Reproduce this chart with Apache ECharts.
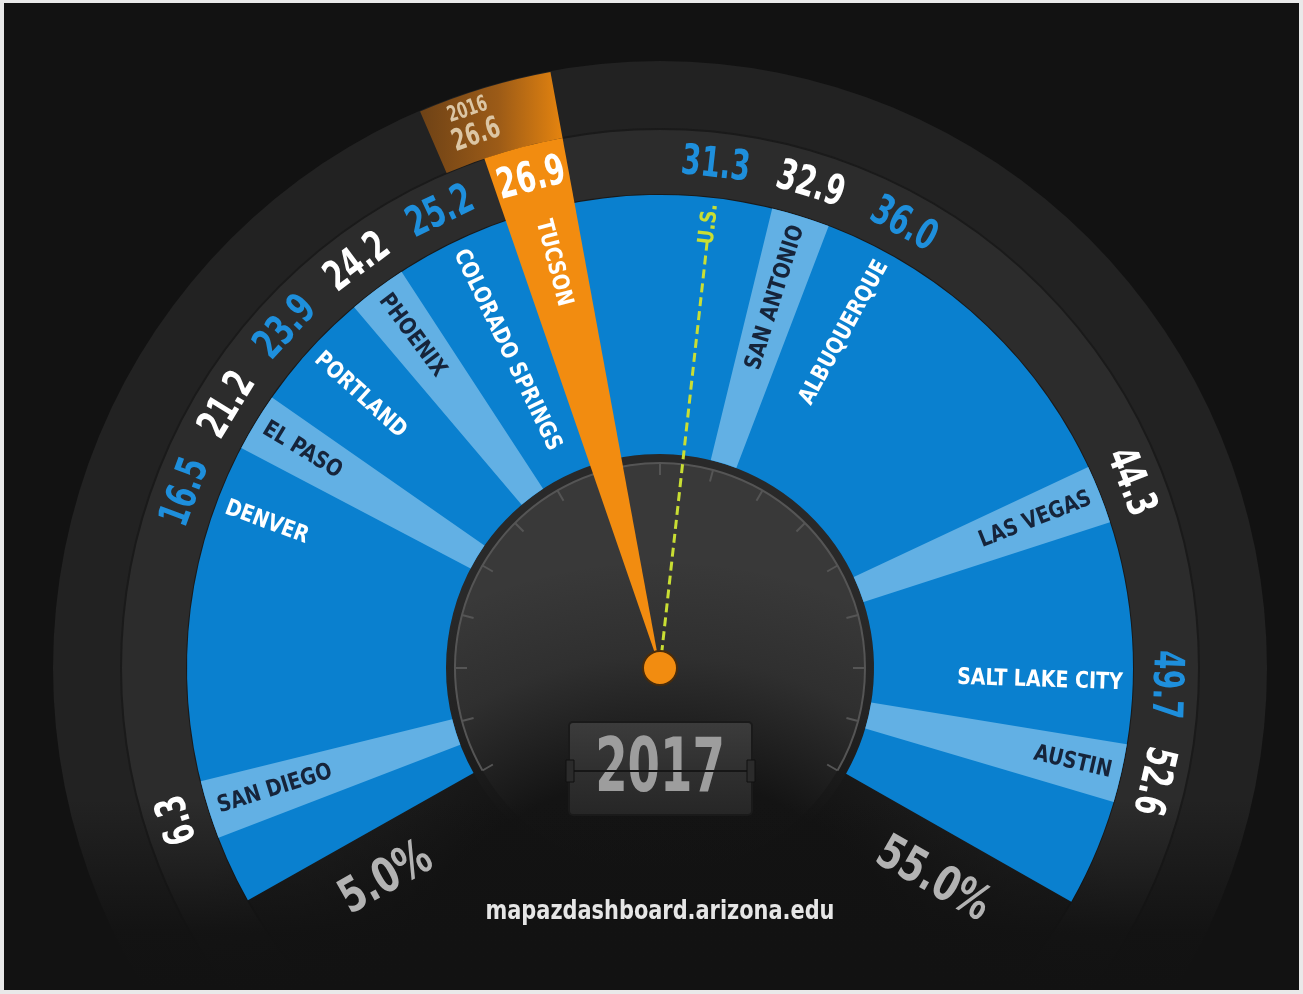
<!DOCTYPE html>
<html>
<head>
<meta charset="utf-8">
<script src="https://cdn.jsdelivr.net/npm/echarts@6/dist/echarts.min.js"></script>
<style>
  html, body { margin: 0; padding: 0; background: #e9e9e9; }
  #main { width: 1303px; height: 994px; }
</style>
</head>
<body>
<div id="main"></div>
<script>
// data
const CITIES = ['SAN DIEGO', 'DENVER', 'EL PASO', 'PORTLAND', 'PHOENIX', 'COLORADO SPRINGS',
  'TUCSON', 'SAN ANTONIO', 'ALBUQUERQUE', 'LAS VEGAS', 'SALT LAKE CITY', 'AUSTIN'];
const VALUES_2017 = [6.3, 16.5, 21.2, 23.9, 24.2, 25.2, 26.9, 32.9, 36.0, 44.3, 49.7, 52.6];
const HIGHLIGHT = 'TUCSON';
const HIGHLIGHT_PREV = 26.6;
const US_VALUE = 31.3;
const AXIS_MIN = 5, AXIS_MAX = 55;
const AXIS_LABELS = ['5.0%', '55.0%'];
const YEAR = '2017', PREV_YEAR = '2016';
const SOURCE = 'mapazdashboard.arizona.edu';

const CX = 660, CY = 668;
const R_OUT = 607, R_RING = 539, R_BLUE = 473, R_HUB = 214;
const STRIPE = 1.5;
const FONT = "'Liberation Sans Narrow', 'DejaVu Sans Condensed', 'Arial Narrow', sans-serif";
const BLUE = '#0a80cf', LIGHT = '#62b0e4', ORANGE = '#f28c10', NUM_BLUE = '#1e8fdc';

const hi = CITIES.indexOf(HIGHLIGHT);

// push close values apart so stripes/labels don't collide, the highlighted city stays put
function spread(vals, fixed, gap, lo, hiLim) {
  const idx = vals.map((v, i) => i).sort((a, b) => vals[a] - vals[b]);
  const pos = vals.slice();
  const k = idx.indexOf(fixed), n = idx.length;
  for (let j = k + 1; j < n; j++) pos[idx[j]] = Math.max(vals[idx[j]], pos[idx[j - 1]] + gap);
  pos[idx[n - 1]] = Math.min(pos[idx[n - 1]], hiLim);
  for (let j = n - 2; j > k; j--) pos[idx[j]] = Math.min(pos[idx[j]], pos[idx[j + 1]] - gap);
  for (let j = k - 1; j >= 0; j--) pos[idx[j]] = Math.min(vals[idx[j]], pos[idx[j + 1]] - gap);
  pos[idx[0]] = Math.max(pos[idx[0]], lo);
  for (let j = 1; j < k; j++) pos[idx[j]] = Math.max(pos[idx[j]], pos[idx[j - 1]] + gap);
  return pos;
}
// the U.S. line takes part in the spreading too (last slot)
const allPos = spread(VALUES_2017.concat([US_VALUE]), hi, 2.3, AXIS_MIN + 2.5, AXIS_MAX - 3.5);
const pos = allPos.slice(0, CITIES.length);
const usPos = allPos[CITIES.length];

// alternate light / dark by rank (highlight excluded)
const ranked = CITIES.map((c, i) => i).filter(i => i !== hi).sort((a, b) => VALUES_2017[a] - VALUES_2017[b]);
const isLight = {};
ranked.forEach((i, r) => { isLight[i] = r % 2 === 0; });

function ang(cs, api, v) {
  const p = api.coord([100, v]);
  return Math.atan2(p[1] - cs.cy, p[0] - cs.cx);
}
function sector(cs, api, v1, v2, r0, r, style) {
  const a1 = ang(cs, api, v1);
  let a2 = ang(cs, api, v2);
  while (a2 < a1) a2 += Math.PI * 2;
  return { type: 'sector', shape: { cx: cs.cx, cy: cs.cy, r0: r0, r: r, startAngle: a1, endAngle: a2, clockwise: true }, style: style };
}
function txt(text, size, fill, weight) {
  return { text: text, fill: fill, fontSize: size, fontWeight: weight || 'bold', fontFamily: FONT };
}
// text running along the radius, always readable
function radialText(cs, api, v, r, style, sx) {
  const a = ang(cs, api, v);
  const right = Math.cos(a) >= 0;
  style.align = right ? 'right' : 'left';
  style.verticalAlign = 'middle';
  return { type: 'text', x: cs.cx + r * Math.cos(a), y: cs.cy + r * Math.sin(a), scaleX: sx || 1,
    rotation: right ? -a : Math.PI - a, style: style };
}
// text along the ring, tops facing out
function ringText(cs, api, v, r, style, sx) {
  const a = ang(cs, api, v);
  style.align = 'center';
  style.verticalAlign = 'middle';
  return { type: 'text', x: cs.cx + r * Math.cos(a), y: cs.cy + r * Math.sin(a), scaleX: sx || 1,
    rotation: -a - Math.PI / 2, style: style };
}

const chart = echarts.init(document.getElementById('main'));
chart.setOption({
  animation: false,
  polar: [
    { center: [CX, CY], radius: R_OUT },
    { center: [CX, CY], radius: 205 }
  ],
  angleAxis: [
    { polarIndex: 0, type: 'value', min: AXIS_MIN, max: AXIS_MAX, startAngle: 209.4, endAngle: -29.6, show: false },
    { polarIndex: 1, type: 'value', min: -120, max: 120, interval: 15, startAngle: 210, endAngle: -30,
      axisLine: { lineStyle: { color: '#555555', width: 2 } },
      axisTick: { inside: true, length: 12, lineStyle: { color: '#555555', width: 2 } },
      axisLabel: { show: false }, splitLine: { show: false } }
  ],
  radiusAxis: [
    { polarIndex: 0, type: 'value', min: 0, max: R_OUT, show: false },
    { polarIndex: 1, type: 'value', min: 0, max: 1, show: false }
  ],
  graphic: [
    { type: 'rect', z: -10, shape: { x: 4, y: 3, width: 1295, height: 987 }, style: { fill: '#121212' } },
    { type: 'circle', z: -9, shape: { cx: CX, cy: CY, r: R_OUT }, style: { fill: '#222222' } },
    { type: 'ring', z: -8, shape: { cx: CX, cy: CY, r: R_RING, r0: R_BLUE }, style: { fill: '#2c2c2c', stroke: '#1a1a1a', lineWidth: 2 } },
    { type: 'circle', z: -8, shape: { cx: CX, cy: CY, r: R_HUB }, style: { fill: '#292929' } },
    { type: 'circle', z: -8, shape: { cx: CX, cy: CY, r: 205 }, style: { fill: '#393939' } },
    { type: 'circle', z: -7, shape: { cx: CX, cy: 1040, r: 480 }, style: {
      fill: new echarts.graphic.RadialGradient(0.5, 0.5, 0.5, [
        { offset: 0, color: 'rgba(18,18,18,1)' },
        { offset: 0.55, color: 'rgba(18,18,18,0.95)' },
        { offset: 0.8, color: 'rgba(18,18,18,0.25)' },
        { offset: 1, color: 'rgba(18,18,18,0)' }]) } },
    { type: 'rect', z: -7, shape: { x: 4, y: 800, width: 1295, height: 190 }, style: {
      fill: new echarts.graphic.LinearGradient(0, 0, 0, 1, [
        { offset: 0, color: 'rgba(18,18,18,0)' },
        { offset: 0.7, color: 'rgba(18,18,18,0.95)' },
        { offset: 1, color: 'rgba(18,18,18,1)' }]) } },
    { type: 'rect', z: 20, shape: { x: 569, y: 722, width: 183, height: 93, r: 4 }, style: {
      fill: new echarts.graphic.LinearGradient(0, 0, 0, 1, [
        { offset: 0, color: '#3c3c3c' }, { offset: 0.5, color: '#303030' }, { offset: 1, color: '#262626' }]),
      stroke: '#1a1a1a', lineWidth: 2 } },
    { type: 'text', z: 21, x: 660, y: 772, scaleX: 0.7, style: { text: YEAR, x: 0, y: 0, align: 'center', verticalAlign: 'middle',
      fill: '#9d9d9d', fontSize: 74, fontWeight: 'bold', fontFamily: FONT } },
    { type: 'line', z: 22, shape: { x1: 573, y1: 771, x2: 748, y2: 771 }, style: { stroke: '#161616', lineWidth: 2 } },
    { type: 'rect', z: 22, shape: { x: 566, y: 760, width: 8, height: 22 }, style: { fill: '#2b2b2b', stroke: '#111', lineWidth: 1 } },
    { type: 'rect', z: 22, shape: { x: 747, y: 760, width: 8, height: 22 }, style: { fill: '#2b2b2b', stroke: '#111', lineWidth: 1 } },
    { type: 'text', z: 21, x: 660, y: 912, scaleX: 0.86, style: { text: SOURCE, x: 0, y: 0, align: 'center', verticalAlign: 'middle',
      fill: '#e6e6e6', fontSize: 27, fontWeight: 'bold', fontFamily: FONT } },
    { type: 'circle', z: 30, shape: { cx: CX, cy: CY, r: 17 }, style: { fill: ORANGE, stroke: '#4a2c0a', lineWidth: 2 } },
    // light frame strip along the bottom edge
    { type: 'rect', z: 40, shape: { x: 0, y: 990, width: 1303, height: 4 }, style: { fill: '#e9e9e9' } }
  ],
  series: [
    {
      // blue band of the gauge
      type: 'custom', coordinateSystem: 'polar', polarIndex: 0, silent: true, z: 2,
      data: [[0, AXIS_MIN]],
      renderItem: (params, api) => sector(params.coordSys, api, AXIS_MIN, AXIS_MAX, R_HUB, R_BLUE, { fill: BLUE })
    },
    {
      // cities
      type: 'custom', coordinateSystem: 'polar', polarIndex: 0, silent: true, z: 3,
      data: CITIES.map((c, i) => [i, pos[i]]).filter(d => d[0] !== hi),
      renderItem: (params, api) => {
        const cs = params.coordSys;
        const i = api.value(0), p = api.value(1);
        const light = isLight[i];
        const children = [];
        if (light) children.push(sector(cs, api, p - STRIPE / 2, p + STRIPE / 2, R_HUB, R_BLUE, { fill: LIGHT }));
        children.push(radialText(cs, api, p, R_BLUE - 10, txt(CITIES[i], 23, light ? '#16243a' : '#ffffff'), 0.92));
        children.push(ringText(cs, api, p, 505, txt(VALUES_2017[i].toFixed(1), 42, light ? '#ffffff' : NUM_BLUE), 0.74));
        return { type: 'group', children: children };
      }
    },
    {
      // U.S. reference line
      type: 'custom', coordinateSystem: 'polar', polarIndex: 0, silent: true, z: 4,
      data: [[0, usPos]],
      renderItem: (params, api) => {
        const cs = params.coordSys, v = api.value(1);
        const p0 = api.coord([0, v]), p1 = api.coord([432, v]);
        return { type: 'group', children: [
          { type: 'line', shape: { x1: p0[0], y1: p0[1], x2: p1[0], y2: p1[1] },
            style: { stroke: '#c9de33', lineWidth: 3, lineDash: [9, 5] } },
          radialText(cs, api, v, R_BLUE - 6, txt('U.S.', 22, '#c9de33'), 0.9),
          ringText(cs, api, v, 505, txt(US_VALUE.toFixed(1), 42, NUM_BLUE), 0.74)
        ] };
      }
    },
    {
      // highlighted city with last year's value
      type: 'custom', coordinateSystem: 'polar', polarIndex: 0, silent: true, z: 5,
      data: [[hi, pos[hi]]],
      renderItem: (params, api) => {
        const cs = params.coordSys, i = api.value(0), p = api.value(1);
        const pPrev = p + (HIGHLIGHT_PREV - VALUES_2017[i]);
        return { type: 'group', children: [
          sector(cs, api, pPrev - 1.5, p + 0.9, R_RING, R_OUT - 1, {
            fill: new echarts.graphic.LinearGradient(0, 0, 1, 0, [
              { offset: 0, color: '#6e4216' }, { offset: 0.55, color: '#9c5b17' }, { offset: 1, color: '#e5840f' }]) }),
          sector(cs, api, p - 0.9, p + 0.9, 0, R_RING, { fill: ORANGE }),
          radialText(cs, api, p, R_BLUE - 10, txt(CITIES[i], 23, '#ffffff'), 0.92),
          ringText(cs, api, p, 505, txt(VALUES_2017[i].toFixed(1), 42, '#ffffff'), 0.74),
          ringText(cs, api, pPrev - 0.6, 590, txt(PREV_YEAR, 22, '#dcc6a4'), 0.74),
          ringText(cs, api, pPrev - 0.6, 563, txt(HIGHLIGHT_PREV.toFixed(1), 30, '#dcc6a4'), 0.74)
        ] };
      }
    },
    {
      // scale ends
      type: 'custom', coordinateSystem: 'polar', polarIndex: 0, silent: true, z: 6,
      data: [[0, AXIS_MIN], [1, AXIS_MAX]],
      renderItem: (params, api) => {
        const cs = params.coordSys, k = api.value(0), v = api.value(1);
        const a = ang(cs, api, v);
        const nrm = k === 0 ? a - Math.PI / 2 : a + Math.PI / 2;
        const s = txt(AXIS_LABELS[k], 48, '#b3b3b3');
        s.align = 'center'; s.verticalAlign = 'middle';
        return { type: 'text', scaleX: 0.82,
          x: cs.cx + 342 * Math.cos(a) + 50 * Math.cos(nrm),
          y: cs.cy + 342 * Math.sin(a) + 50 * Math.sin(nrm),
          rotation: k === 0 ? Math.PI - a : -a, style: s };
      }
    }
  ]
});
</script>
</body>
</html>
